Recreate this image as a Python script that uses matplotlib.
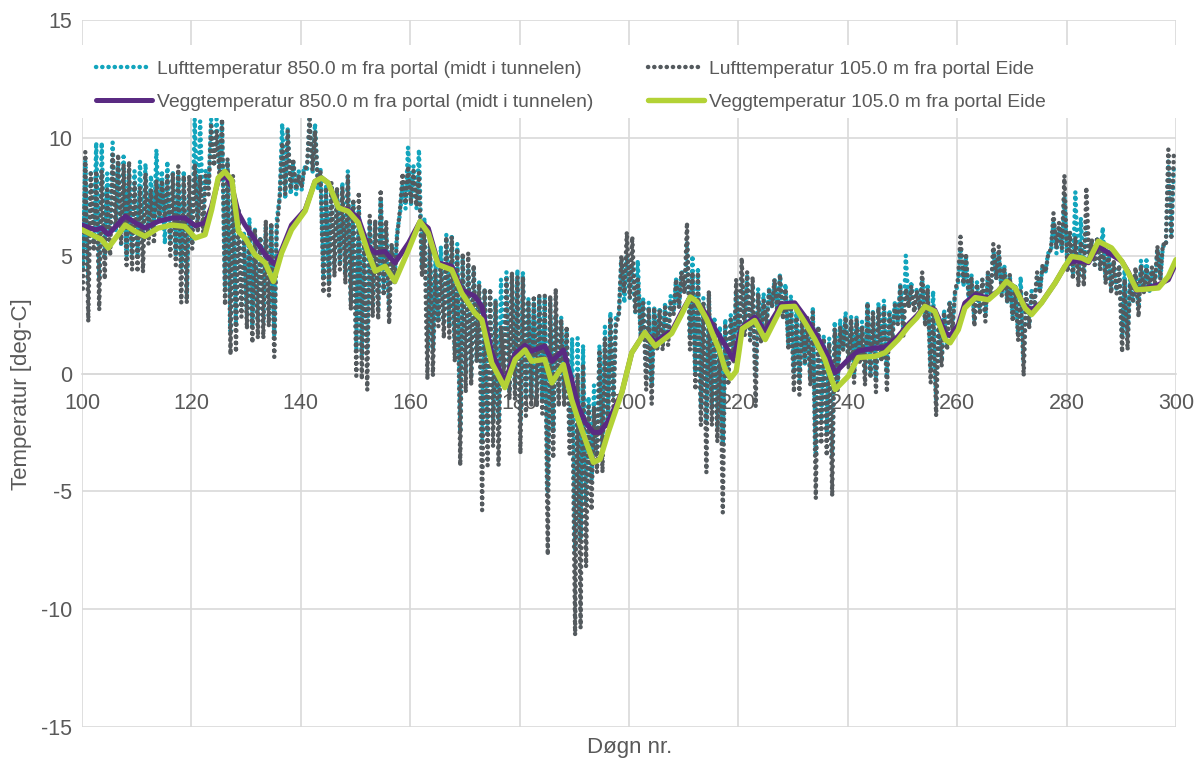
import matplotlib
matplotlib.use("Agg")
import matplotlib.pyplot as plt
from matplotlib.patches import Rectangle

plt.rcParams['font.family'] = ['Liberation Sans', 'DejaVu Sans']
plt.rcParams['axes.unicode_minus'] = False

# ---------------- data ----------------
days = list(range(100, 300))

# Lufttemperatur 105.0 m fra portal Eide (daily max / min)
eide_hi = [9.4, 8.5, 8.6, 8.6, 7.8, 9.3, 9.3, 8.9, 9.0, 8.1,
           7.9, 8.5, 7.8, 8.2, 8.2, 8.4, 8.5, 8.8, 8.4, 8.4,
           8.9, 8.4, 8.4, 10.5, 10.3, 10.8, 9.1, 8.4, 7.0, 5.8,
           6.2, 6.1, 5.8, 6.5, 6.4, 6.1, 9.8, 10.3, 9.1, 8.4,
           8.6, 10.8, 10.3, 8.6, 7.9, 8.1, 7.9, 7.9, 8.4, 7.4,
           7.7, 5.5, 6.7, 6.5, 7.8, 6.5, 5.5, 5.8, 8.5, 8.8,
           8.6, 8.5, 6.1, 5.7, 4.4, 4.7, 5.8, 5.8, 5.3, 5.1,
           5.1, 4.6, 3.8, 3.6, 3.6, 3.1, 2.0, 4.0, 4.3, 4.1,
           4.1, 3.1, 3.3, 3.3, 3.3, 3.3, 3.6, 2.3, 2.0, -0.1,
           0.0, 0.4, -1.4, -1.4, 1.0, 1.5, 2.4, 2.0, 5.0, 6.0,
           5.8, 4.1, 3.0, 2.8, 2.8, 2.7, 2.8, 3.0, 4.0, 4.3,
           6.4, 4.3, 4.3, 3.0, 3.5, 2.2, 1.7, 2.0, 2.3, 4.0,
           4.9, 4.3, 4.1, 3.4, 3.1, 3.5, 4.0, 4.2, 3.6, 3.0,
           2.4, 2.3, 2.4, 2.6, 2.0, 1.5, 1.3, 1.9, 2.0, 2.4,
           2.3, 2.3, 2.0, 3.0, 2.6, 2.8, 2.9, 2.5, 2.9, 3.7,
           3.6, 3.7, 3.5, 4.3, 3.6, 2.9, 2.1, 2.6, 3.0, 3.5,
           5.8, 5.1, 4.1, 3.8, 4.0, 4.3, 5.5, 5.4, 4.5, 4.2,
           3.6, 3.5, 3.4, 3.4, 4.3, 4.6, 5.0, 6.8, 6.4, 8.4,
           6.0, 5.8, 5.6, 7.9, 5.7, 5.8, 5.6, 5.2, 4.8, 4.6,
           4.0, 3.8, 4.5, 4.6, 4.5, 4.5, 5.4, 5.5, 9.5, 9.3]
eide_lo = [3.6, 2.2, 5.2, 2.7, 4.0, 5.0, 6.2, 5.5, 4.6, 4.4,
           4.3, 4.3, 5.5, 5.5, 6.4, 6.5, 5.0, 4.6, 3.0, 3.0,
           5.3, 6.0, 6.0, 7.6, 8.8, 8.4, 2.9, 0.8, 0.9, 2.4,
           1.9, 1.3, 1.5, 1.5, 2.0, 0.7, 7.5, 7.6, 7.8, 7.8,
           7.9, 8.8, 8.6, 8.0, 3.4, 3.3, 4.1, 4.4, 3.8, 2.7,
           -0.1, -0.25, -0.7, 2.4, 2.3, 3.3, 2.1, 3.8, 7.0, 7.2,
           7.2, 7.1, 4.1, -0.25, -0.1, 2.0, 1.5, 1.5, 0.5, -3.9,
           -0.8, -0.5, 0.5, -5.8, -3.9, -3.1, -3.9, 0.0, -1.1, -1.1,
           -3.4, -1.8, -1.4, -1.4, -1.7, -7.7, -3.6, -1.4, -1.4, -3.4,
           -11.1, -10.8, -8.2, -5.8, -4.2, -4.2, -2.5, -1.4, 2.5, 3.4,
           3.2, 2.6, 1.5, -0.7, -1.3, 1.0, 1.0, 1.2, 2.5, 2.8,
           3.4, 1.0, -0.7, -2.2, -4.2, -2.2, -2.9, -5.9, -0.5, 0.5,
           1.0, 1.6, 1.4, -1.4, 1.3, 2.0, 2.8, 2.5, 2.3, 1.0,
           -0.8, -0.9, 0.5, -0.5, -5.3, -3.0, -3.5, -5.2, -0.7, 1.0,
           0.2, -0.4, 0.5, -0.5, -0.2, -0.8, 0.5, -0.8, 1.4, 2.1,
           1.6, 2.8, 2.6, 2.7, 2.0, -0.4, -1.8, 0.3, 1.0, 1.8,
           4.0, 3.8, 3.0, 2.0, 2.5, 2.2, 3.3, 4.0, 3.3, 3.0,
           2.2, 1.4, -0.1, 1.9, 3.0, 3.5, 4.3, 5.3, 5.3, 5.3,
           4.3, 4.0, 3.7, 3.7, 4.8, 4.6, 4.4, 3.8, 3.4, 3.4,
           0.9, 1.0, 3.1, 2.4, 3.4, 3.5, 3.8, 4.0, 5.4, 5.8]

# Lufttemperatur 850.0 m fra portal (midt i tunnelen) (daily max / min)
midt_hi = [9.0, 8.5, 9.8, 9.8, 8.5, 9.8, 9.0, 9.2, 8.5, 8.6,
           9.0, 8.9, 8.4, 9.5, 8.6, 9.0, 8.6, 8.4, 8.6, 7.5,
           10.8, 10.7, 8.6, 10.8, 10.8, 10.6, 9.0, 8.2, 7.0, 6.0,
           6.6, 6.2, 5.8, 6.3, 6.3, 6.5, 10.6, 10.4, 9.0, 8.6,
           8.8, 10.8, 10.6, 8.7, 8.0, 8.0, 7.8, 8.1, 8.6, 7.2,
           7.0, 6.0, 6.5, 6.4, 7.4, 6.0, 5.5, 6.0, 8.0, 9.6,
           8.8, 9.5, 6.6, 5.6, 4.8, 5.4, 5.9, 5.9, 5.5, 5.0,
           4.6, 4.5, 3.9, 3.6, 3.6, 3.1, 4.0, 4.3, 4.2, 4.4,
           4.3, 3.2, 3.0, 3.3, 3.2, 3.2, 2.5, 2.4, 1.8, 1.5,
           1.5, 1.2, -1.0, -0.5, 1.2, 2.0, 2.6, 2.5, 4.8, 5.0,
           4.6, 4.8, 3.2, 3.0, 2.8, 2.8, 3.0, 3.3, 4.0, 4.4,
           5.6, 5.0, 4.5, 3.2, 3.4, 2.4, 2.0, 2.3, 2.5, 3.5,
           4.0, 4.2, 3.8, 3.6, 3.4, 3.6, 4.0, 4.2, 3.8, 3.3,
           2.8, 2.4, 2.4, 2.8, 2.0, 1.6, 1.5, 2.2, 2.3, 2.6,
           2.4, 2.4, 2.2, 3.0, 2.7, 3.0, 3.1, 2.7, 3.0, 3.8,
           5.0, 3.9, 3.6, 4.0, 3.8, 3.5, 2.4, 2.7, 3.1, 3.4,
           5.2, 5.0, 4.2, 3.9, 4.0, 4.2, 5.3, 5.0, 4.6, 4.2,
           3.8, 4.1, 3.4, 3.5, 4.1, 4.6, 5.1, 6.4, 6.2, 7.5,
           6.0, 7.7, 6.6, 6.2, 5.6, 5.8, 6.2, 5.4, 4.8, 4.6,
           4.4, 4.0, 4.2, 4.8, 4.8, 4.3, 5.3, 5.4, 9.0, 8.8]
midt_lo = [4.5, 4.0, 5.5, 4.0, 5.0, 6.0, 6.0, 5.5, 5.0, 5.0,
           5.0, 5.6, 6.0, 6.2, 6.5, 5.5, 5.5, 5.0, 4.5, 3.2,
           5.5, 6.5, 6.5, 8.0, 8.8, 8.6, 3.5, 1.8, 2.0, 2.8,
           2.4, 2.0, 2.2, 2.2, 2.5, 1.6, 7.5, 7.4, 7.6, 7.6,
           7.8, 8.6, 8.5, 7.8, 4.0, 3.8, 4.5, 4.6, 4.2, 3.0,
           1.0, 0.8, 1.0, 2.8, 2.6, 3.5, 2.8, 4.0, 6.8, 7.0,
           7.2, 7.0, 4.5, 1.0, 1.0, 2.2, 2.2, 2.0, 1.0, -2.5,
           0.0, -0.2, 0.5, -3.0, -2.5, -2.0, -2.0, 0.2, -0.8, -0.5,
           -2.0, -1.0, -1.0, -1.0, -1.2, -5.0, -2.5, -1.0, -1.0, -2.5,
           -7.5, -7.0, -5.5, -4.5, -3.5, -3.0, -2.0, -1.0, 2.5, 3.0,
           3.2, 2.6, 1.5, -0.3, -0.5, 1.0, 1.2, 1.5, 2.6, 2.8,
           3.4, 1.5, 0.0, -1.5, -2.0, -1.5, -2.3, -3.0, 0.0, 0.8,
           1.2, 1.8, 1.5, -0.2, 1.4, 2.0, 2.8, 2.6, 2.4, 1.2,
           0.0, -0.3, 0.4, -0.2, -3.5, -2.0, -2.5, -3.5, -0.3, 1.0,
           0.5, 0.0, 0.6, 0.0, 0.0, -0.3, 0.7, -0.2, 1.6, 2.2,
           1.8, 2.8, 2.6, 2.7, 2.2, 0.2, -1.2, 0.5, 1.2, 2.0,
           3.8, 3.7, 3.0, 2.2, 2.6, 2.4, 3.4, 4.0, 3.4, 3.0,
           2.4, 1.6, 0.5, 2.0, 3.0, 3.5, 4.3, 5.2, 5.1, 5.2,
           4.5, 4.2, 4.0, 4.0, 4.7, 4.6, 4.4, 3.9, 3.6, 3.5,
           1.5, 1.5, 3.0, 2.8, 3.5, 3.5, 3.8, 4.0, 5.4, 5.8]

# Veggtemperatur 850.0 m fra portal (midt i tunnelen)
vegg_midt_day = [100, 102.4, 103.6, 104.8, 107.9, 109.7, 111.5, 113.9, 116.4, 118.8,
                 120.7, 122.5, 123.7, 124.9, 126.1, 127.4, 128.6, 129.8, 131.6, 133.5,
                 135.3, 136.5, 138.3, 140.8, 142.6, 143.8, 145.0, 146.9, 148.7, 150.5,
                 152.3, 153.6, 155.4, 157.2, 159.7, 161.8, 163.3, 165.1, 167.6, 169.4,
                 171.8, 173.1, 174.9, 177.3, 179.2, 181.0, 182.2, 184.6, 185.9, 188.0,
                 189.5, 190.7, 192.0, 193.5, 194.7, 196.2, 198.7, 200.5, 202.9, 204.8,
                 207.8, 209.6, 211.2, 212.4, 214.2, 215.7, 217.6, 219.0, 220.6, 223.0,
                 224.9, 227.9, 230.3, 232.2, 234.0, 235.8, 237.7, 240.1, 241.9, 245.0,
                 246.8, 249.2, 251.1, 252.6, 254.1, 255.9, 257.8, 258.7, 260.2, 261.4,
                 263.3, 265.7, 267.5, 269.0, 270.6, 272.4, 273.6, 275.4, 277.9, 279.7,
                 280.9, 282.8, 284.0, 285.8, 288.2, 290.1, 291.3, 292.8, 294.9, 296.8,
                 298.6, 300]
vegg_midt = [6.3, 6.1, 6.17, 5.9, 6.67, 6.4, 6.17, 6.45, 6.6, 6.6,
             6.27, 6.4, 7.1, 8.2, 8.43, 7.94, 6.8, 6.3, 5.68, 5.04,
             4.62, 5.25, 6.3, 6.95, 8.15, 8.3, 8.09, 7.03, 6.95, 6.6,
             5.4, 5.12, 5.18, 4.69, 5.54, 6.45, 6.17, 4.69, 4.55, 3.55,
             3.28, 2.85, 0.88, -0.33, 0.85, 1.2, 0.95, 1.16, 0.52, 1.0,
             -0.25, -1.38, -2.08, -2.5, -2.5, -2.02, -0.8, 0.88, 1.75, 1.35,
             1.8, 2.6, 3.25, 3.0, 2.5, 1.9, 1.2, 0.6, 1.95, 2.4,
             1.8, 2.95, 3.0, 2.4, 1.74, 1.0, 0.03, 0.6, 0.95, 1.09,
             1.1, 1.58, 2.1, 2.45, 2.85, 2.7, 1.74, 1.6, 2.07, 2.99,
             3.35, 3.2, 3.5, 3.91, 3.63, 2.85, 2.71, 3.0, 3.84, 4.55,
             4.76, 4.76, 4.7, 5.4, 5.04, 4.76, 4.3, 3.49, 3.65, 3.77,
             3.98, 4.69]

# Veggtemperatur 105.0 m fra portal Eide
vegg_eide_day = [100, 102.4, 103.6, 104.8, 107.9, 109.7, 111.5, 113.9, 116.4, 118.8,
                 120.7, 122.5, 123.7, 124.9, 126.1, 127.4, 128.6, 130.0, 131.6, 133.5,
                 135.0, 136.5, 138.3, 140.8, 142.6, 143.8, 145.0, 146.9, 148.7, 150.5,
                 152.3, 153.6, 155.4, 157.2, 159.7, 161.8, 163.3, 165.1, 167.6, 169.4,
                 171.8, 173.1, 174.9, 177.3, 179.2, 181.0, 182.2, 184.6, 185.9, 188.0,
                 189.5, 190.7, 192.0, 193.5, 194.7, 196.2, 198.7, 200.5, 202.9, 204.8,
                 207.8, 209.6, 211.2, 212.4, 214.2, 215.7, 216.5, 217.6, 218.6, 219.6,
                 220.7, 223.0, 224.9, 227.9, 230.3, 232.2, 234.0, 235.8, 237.7, 240.1,
                 241.9, 245.0, 246.8, 249.2, 251.1, 252.6, 254.1, 255.9, 257.8, 258.7,
                 260.2, 261.4, 263.3, 265.7, 267.5, 269.0, 270.6, 272.4, 273.6, 275.4,
                 277.9, 279.7, 280.9, 282.8, 284.0, 285.8, 288.2, 290.1, 291.3, 292.8,
                 294.9, 296.8, 298.6, 300]
vegg_eide = [6.1, 5.82, 5.68, 5.33, 6.3, 6.03, 5.82, 6.17, 6.3, 6.24,
             5.75, 5.89, 6.95, 8.3, 8.57, 8.2, 6.03, 5.68, 5.04, 4.69,
             3.91, 5.12, 6.1, 6.9, 8.15, 8.3, 8.09, 7.03, 6.88, 6.4,
             5.12, 4.34, 4.55, 3.91, 5.25, 6.45, 5.96, 4.62, 4.4, 3.42,
             2.57, 2.28, 0.45, -0.6, 0.6, 1.0, 0.52, 0.6, -0.4, 0.38,
             -1.1, -1.95, -2.8, -3.77, -3.64, -2.5, -0.8, 0.88, 1.74, 1.16,
             1.7, 2.5, 3.25, 3.05, 2.3, 1.44, 1.0, 0.17, -0.2, 0.1,
             1.9, 2.25, 1.44, 2.82, 2.85, 2.15, 1.44, 0.6, -0.68, -0.11,
             0.68, 0.73, 0.88, 1.44, 2.0, 2.36, 2.85, 2.64, 1.44, 1.3,
             1.86, 2.78, 3.22, 3.13, 3.49, 3.91, 3.63, 2.78, 2.5, 2.99,
             3.84, 4.55, 4.97, 4.9, 4.76, 5.61, 5.33, 4.76, 4.26, 3.55,
             3.59, 3.63, 4.12, 4.83]

labels = ["Lufttemperatur 850.0 m fra portal (midt i tunnelen)",
          "Lufttemperatur 105.0 m fra portal Eide",
          "Veggtemperatur 850.0 m fra portal (midt i tunnelen)",
          "Veggtemperatur 105.0 m fra portal Eide"]

# ---------------- styles ----------------
C_CYAN = '#13A5BD'
C_GRAY = '#545A5E'
C_PURPLE = '#5A2A82'
C_GREEN = '#B3D236'
C_TEXT = '#595959'
C_GRID = '#D9D9D9'


def zigzag(d_list, hi_list, lo_list):
    xs, ys = [], []
    for d, h, l in zip(d_list, hi_list, lo_list):
        xs += [d + 0.15, d + 0.6]
        ys += [l, h]
    return xs, ys


fig = plt.figure(figsize=(12.04, 7.62), dpi=100)
ax = fig.add_axes([82 / 1204, 35 / 762, 1094 / 1204, 707 / 762])

dot = (0, (0.05, 1.35))
xm, ym = zigzag(days, midt_hi, midt_lo)
xe, ye = zigzag(days, eide_hi, eide_lo)
l_cyan, = ax.plot(xm, ym, color=C_CYAN, lw=3.2, linestyle=dot,
                  dash_capstyle='round', zorder=2)
l_gray, = ax.plot(xe, ye, color=C_GRAY, lw=3.2, linestyle=dot,
                  dash_capstyle='round', zorder=3)
l_purple, = ax.plot(vegg_midt_day, vegg_midt, color=C_PURPLE, lw=3.6,
                    solid_joinstyle='round', solid_capstyle='round', zorder=4)
l_green, = ax.plot(vegg_eide_day, vegg_eide, color=C_GREEN, lw=3.9,
                   solid_joinstyle='round', solid_capstyle='round', zorder=5)

ax.set_xlim(100, 300)
ax.set_ylim(-15, 15)
ax.set_xticks(range(100, 301, 20))
ax.set_yticks(range(-15, 16, 5))
ax.grid(True, color=C_GRID, lw=1.2)
ax.set_axisbelow(True)
for s in ['top', 'right', 'left']:
    ax.spines[s].set_visible(False)
ax.spines['bottom'].set_position(('data', 0))
ax.spines['bottom'].set_color(C_GRID)
ax.spines['bottom'].set_linewidth(1.2)
ax.spines['bottom'].set_zorder(0.5)
ax.tick_params(axis='both', length=0, labelsize=15.5, labelcolor=C_TEXT)
ax.tick_params(axis='x', pad=14)
ax.tick_params(axis='y', pad=7)

ax.set_ylabel('Temperatur [deg-C]', fontsize=16, color=C_TEXT)
ax.yaxis.set_label_coords(-0.046, 0.471)
ax.set_xlabel('Døgn nr.', fontsize=16, color=C_TEXT, va='center')
ax.xaxis.set_label_coords(0.501, -0.0297)

# legend band
ax.add_patch(Rectangle((0, 0.861), 1, 0.104, transform=ax.transAxes,
                       facecolor='white', edgecolor='none', zorder=6))
leg = ax.legend([l_cyan, l_purple, l_gray, l_green],
                [labels[0], labels[2], labels[1], labels[3]],
                ncol=2, loc='upper left', bbox_to_anchor=(0.0128, 0.943),
                frameon=False, fontsize=13.9, handlelength=2.9,
                handletextpad=0.27, columnspacing=2.8, labelspacing=0.82,
                borderpad=0, borderaxespad=0)
for t in leg.get_texts():
    t.set_color(C_TEXT)
leg.set_zorder(7)

fig.savefig('out.png', dpi=100)
